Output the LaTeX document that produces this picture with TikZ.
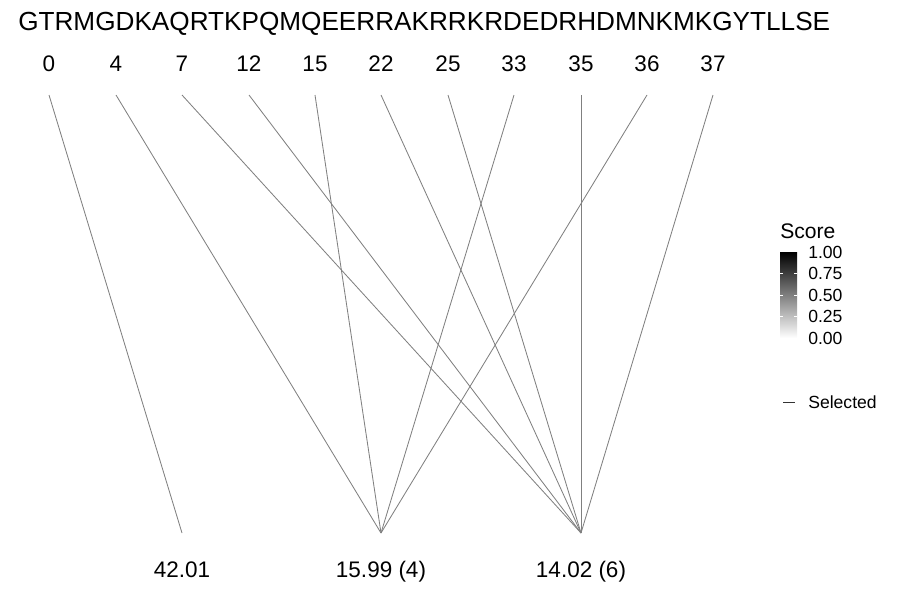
\documentclass[tikz,border=0pt]{standalone}
\usepackage{fontspec}
\setmainfont{Liberation Sans}
\usepackage{xcolor}
\usepackage{tikz}

\tikzset{
  link/.style={black!50, line width=0.6pt},
  tick/.style={font=\fontsize{16}{18}\selectfont, anchor=base},
  leg/.style={font=\fontsize{12.5}{14}\selectfont, anchor=west}
}

\begin{document}
\begin{tikzpicture}[x=0.025cm,y=-0.025cm]
\useasboundingbox (0,0) rectangle (900,600);
\node[font=\fontsize{18.6}{20}\selectfont, anchor=base west, inner sep=0pt] (seq) at (18,30) {GTRMGDKAQRTKPQMQEERRAKRRKRDEDRHDMNKMKGYTLLSE};
% fragment positions along the top
\foreach \x/\lbl in {49/0,116/4,182/7,249/12,315/15,381/22,448/25,514/33,581/35,647/36,713/37} {
  \node[tick] (p\lbl) at (\x,71) {\lbl};
  \coordinate (t\lbl) at (\x,95);
}
% masses along the bottom
\coordinate (m1) at (182,533);
\coordinate (m2) at (381,533);
\coordinate (m3) at (581,533);
\node[tick] (l1) at (182,577) {42.01};
\node[tick] (l2) at (381,577) {15.99 (4)};
\node[tick] (l3) at (581,577) {14.02 (6)};
\draw[link] (t0) -- (m1);
\foreach \p in {4,15,33,36} \draw[link] (t\p) -- (m2);
\foreach \p in {7,12,22,25,35,37} \draw[link] (t\p) -- (m3);
% legend
\node[font=\fontsize{15}{17}\selectfont, anchor=base west, inner sep=0pt] (score) at (780,238) {Score};
\shade[top color=black, bottom color=white, middle color=gray] (780,252) rectangle (797,338);
\foreach \y/\v in {252/1.00,273.5/0.75,295/0.50,316.5/0.25,338/0.00} {
  \node[leg, inner sep=0pt] (v\v) at (808,\y) {\v};
}
\foreach \y in {273.5,295,316.5} {
  \draw[white, line width=0.5pt] (780,\y) -- (783,\y);
  \draw[white, line width=0.5pt] (794,\y) -- (797,\y);
}
\coordinate (s1) at (783,402);
\coordinate (s2) at (795,402);
\draw[link, black!80] (s1) -- (s2);
\node[leg, inner sep=0pt] (sel) at (808,402) {Selected};
\end{tikzpicture}
\end{document}
